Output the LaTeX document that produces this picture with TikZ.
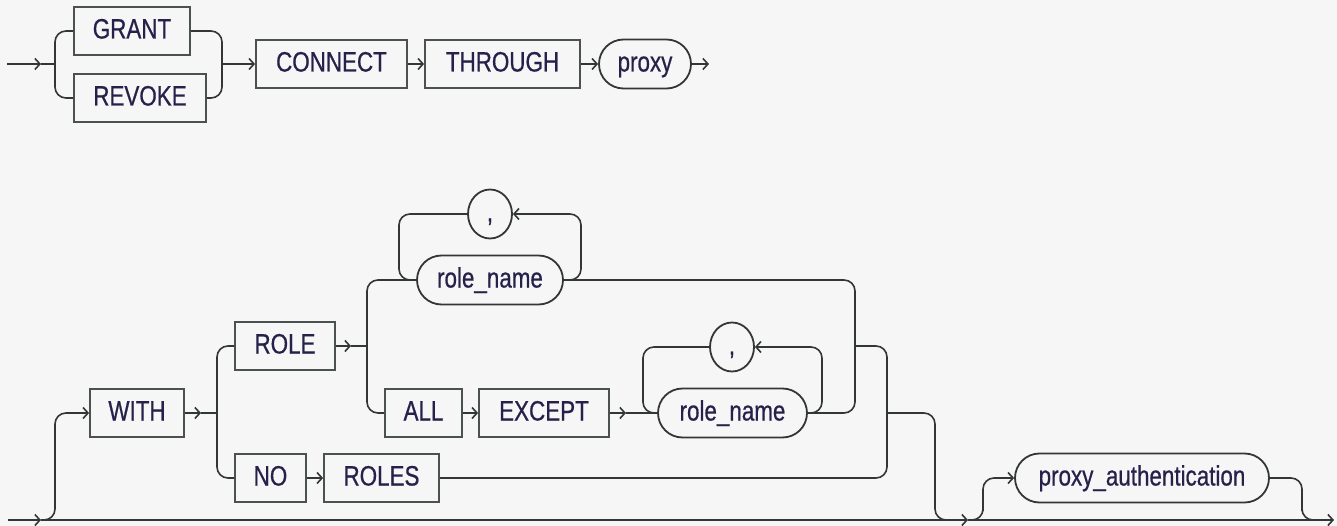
\documentclass[tikz,border=0pt]{standalone}
\usepackage{fontspec}
\setmainfont{Liberation Sans}[FakeStretch=0.8,FakeBold=0.6]
\usetikzlibrary{arrows.meta,shapes.misc,shapes.geometric}
\definecolor{bgc}{HTML}{F6F6F6}
\definecolor{wirec}{HTML}{333636}
\definecolor{boxc}{HTML}{4B5150}
\definecolor{txtc}{HTML}{26214A}
\newcommand{\kwfont}{\fontsize{28}{30}\selectfont}
\begin{document}
\begin{tikzpicture}[x=1pt,y=-1pt,
  lbl/.style={text=txtc,font=\kwfont,text height=21pt,text depth=6pt,inner sep=0pt},
  kw/.style={lbl,draw=boxc,line width=1.8pt,rectangle,minimum height=48pt},
  ident/.style={lbl,draw=wirec,line width=1.8pt,rounded rectangle,minimum height=49pt},
  sepnode/.style={lbl,draw=wirec,line width=1.8pt,ellipse,minimum width=44pt,minimum height=49pt},
  wire/.style={draw=wirec,line width=1.6pt,rounded corners=11pt},
  ar/.style={wire,-{Straight Barb[length=5pt,width=11pt]}},
]
\fill[bgc] (0,0) rectangle (1337,526);
\useasboundingbox (0,0) rectangle (1337,526);

% ---------- top row ----------
\node[kw,minimum width=116pt] (grant) at (132,31) {GRANT};
\node[kw,minimum width=132pt] (revoke) at (140,98) {REVOKE};
\node[kw,minimum width=151pt] (connect) at (331.5,64) {CONNECT};
\node[kw,minimum width=155pt] (through) at (502.5,64) {THROUGH};
\node[ident,minimum width=92pt] (proxy) at (645,64) {proxy};

\coordinate (s0) at (7,64);
\coordinate (s1) at (41,64);
\coordinate (b1) at (55,64);
\coordinate (b2) at (222,64);
\coordinate (e0) at (709,64);

\draw[ar] (s0) -- (s1);
\draw[wire] (s1) -- (b1);
\draw[wire] (grant.west) -| (b1) |- (revoke.west);
\draw[wire] (grant.east) -| (b2) |- (revoke.east);
\draw[ar] (b2) -- (connect.west);
\draw[ar] (connect.east) -- (through.west);
\draw[ar] (through.east) -- (proxy.west);
\draw[ar] (proxy.east) -- (e0);

% ---------- bottom row ----------
\node[kw,minimum width=94pt] (with) at (137,413) {WITH};
\node[kw,minimum width=100pt] (role) at (285,346) {ROLE};
\node[kw,minimum width=71pt] (no) at (270.5,478) {NO};
\node[kw,minimum width=115pt] (roles) at (381.5,478) {ROLES};
\node[ident,minimum width=146pt] (rn1) at (490,280) {role\_name};
\node[sepnode] (c1) at (490,214) {,};
\node[kw,minimum width=77pt] (all) at (423.5,413) {ALL};
\node[kw,minimum width=130pt] (except) at (544,413) {EXCEPT};
\node[ident,minimum width=149pt] (rn2) at (732.5,413) {role\_name};
\node[sepnode] (c2) at (732,347) {,};
\node[ident,minimum width=254pt] (pa) at (1142,478) {proxy\_authentication};

\coordinate (m0) at (8,520);
\coordinate (m1) at (41,520);
\coordinate (m2) at (968,520);
\coordinate (m3) at (1334,520);

\draw[ar] (m0) -- (m1);
\draw[ar] (m1) -- (m2);
\draw[ar] (m2) -- (m3);

% WITH branch
\draw[ar] (m1) -| (55,470) |- (with.west);
\coordinate (wa) at (201,413);
\coordinate (b3) at (217,413);
\draw[ar] (with.east) -- (wa);
\draw[wire] (wa) -- (b3);
\draw[wire] (role.west) -| (b3) |- (no.west);
\draw[ar] (no.east) -- (roles.west);

% ROLE branch
\coordinate (ra) at (351,346);
\coordinate (b4) at (367,346);
\draw[ar] (role.east) -- (ra);
\draw[wire] (ra) -- (b4);
\draw[wire] (rn1.west) -| (b4) |- (all.west);

% loop 1
\draw[ar] (rn1.east) -| (581,250) |- (c1.east);
\draw[wire] (c1.west) -| (399,250) |- (rn1.west);

% ALL EXCEPT
\draw[ar] (all.east) -- (except.west);
\coordinate (ea) at (626,413);
\draw[ar] (except.east) -- (ea);
\draw[wire] (ea) -- (rn2.west);

% loop 2
\draw[ar] (rn2.east) -| (822,380) |- (c2.east);
\draw[wire] (c2.west) -| (643,380) |- (rn2.west);

% merges
\coordinate (b5) at (855,346);
\coordinate (b6) at (887,413);
\coordinate (b7) at (948,520);
\draw[wire] (rn1.east) -| (b5) |- (rn2.east);
\draw[wire] (b5) -| (b6) |- (roles.east);
\draw[wire] (b6) -| (935,470) |- (b7);

% proxy_authentication branch
\coordinate (b8) at (1316,520);
\draw[ar] (m2) -| (983,500) |- (pa.west);
\draw[wire] (pa.east) -| (1302,500) |- (b8);
\end{tikzpicture}
\end{document}
